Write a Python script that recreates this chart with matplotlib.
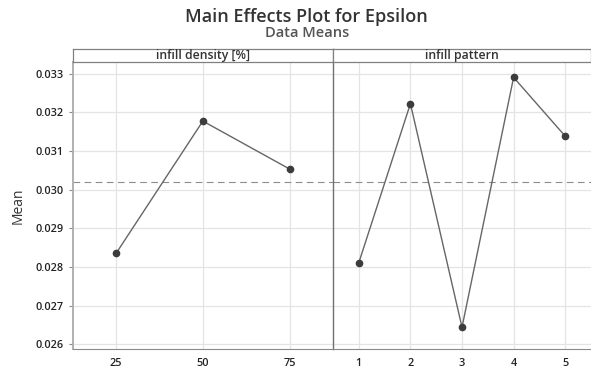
import matplotlib.pyplot as plt
import numpy as np

plt.rcParams['font.family'] = ['Open Sans', 'DejaVu Sans']

density_levels = ['25', '50', '75']
density_means = [0.02835, 0.03177, 0.03053]
pattern_levels = ['1', '2', '3', '4', '5']
pattern_means = [0.02811, 0.03222, 0.02644, 0.03290, 0.03138]
grand_mean = 0.03019
yticks = [0.026, 0.027, 0.028, 0.029, 0.030, 0.031, 0.032, 0.033]

fig = plt.figure(figsize=(5.91, 3.71), dpi=100)

fig.text(0.519, 0.954, 'Main Effects Plot for Epsilon', ha='center', va='center',
         fontsize=13, fontweight='semibold', color='#333333')
fig.text(0.519, 0.912, 'Data Means', ha='center', va='center',
         fontsize=10.5, fontweight='semibold', color='#555555')

bottom, height = 0.0585, 0.7736
strip_h = 0.0358
panels = [
    (0.1230, 0.4405, 'infill density [%]', density_levels, density_means),
    (0.5635, 0.4365, 'infill pattern', pattern_levels, pattern_means),
]

for i, (left, width, name, levels, means) in enumerate(panels):
    ax = fig.add_axes([left, bottom, width, height])
    x = np.arange(len(levels))
    ax.plot(x, means, color='#666666', lw=1.0, marker='o', ms=4.5,
            mfc='#3c3c3c', mec='#3c3c3c', zorder=3)
    ax.axhline(grand_mean, color='#8c8c8c', lw=0.8, ls=(0, (6, 4)), zorder=2)
    ax.set_xlim(-0.5, len(levels) - 0.5)
    ax.set_ylim(0.02587, 0.03329)
    ax.set_xticks(x)
    ax.set_xticklabels(levels, fontweight='semibold')
    ax.set_yticks(yticks)
    ax.grid(True, color='#e4e4e4', lw=0.9)
    ax.set_axisbelow(True)
    for s in ['top', 'right']:
        ax.spines[s].set_visible(False)
    ax.spines['bottom'].set_color('#8a8a8a')
    ax.tick_params(axis='x', length=0, pad=6, labelsize=7.8, colors='#222222')
    if i == 0:
        ax.set_yticklabels(['%.3f' % v for v in yticks], fontweight='semibold')
        ax.tick_params(axis='y', length=3, width=0.8, color='#8a8a8a',
                       labelsize=7.8, labelcolor='#222222')
        ax.spines['left'].set_color('#b0b0b0')
        ax.spines['left'].set_linewidth(1.4)
        ax.set_ylabel('Mean', fontsize=10, color='#333333', labelpad=7)
    else:
        ax.tick_params(axis='y', length=0, labelleft=False)
        ax.spines['left'].set_color('#707070')
        ax.spines['left'].set_linewidth(1.0)

    sax = fig.add_axes([left, bottom + height, width, strip_h])
    sax.set_xticks([])
    sax.set_yticks([])
    for s in sax.spines.values():
        s.set_color('#808080')
        s.set_linewidth(0.9)
    sax.text(0.5, 0.5, name, ha='center', va='center', fontsize=8.8,
             fontweight='semibold', color='#333333', transform=sax.transAxes)

fig.savefig('out.png', dpi=100)
